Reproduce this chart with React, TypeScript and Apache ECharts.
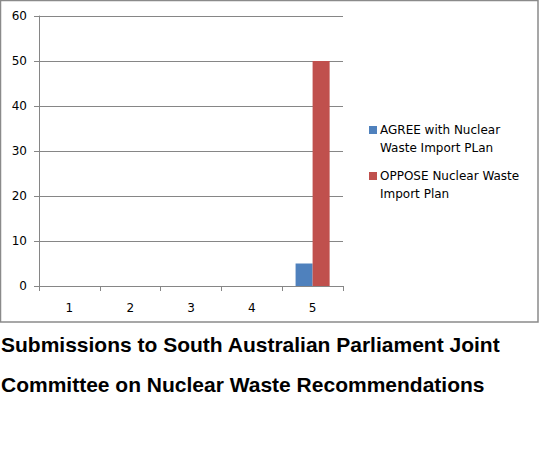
import React, { useEffect, useRef } from "react";
import * as echarts from "echarts";

const categories = ["1", "2", "3", "4", "5"];
const agreeValues = [0, 0, 0, 0, 5];
const opposeValues = [0, 0, 0, 0, 50];
const seriesNames = ["AGREE with Nuclear Waste Import PLan", "OPPOSE Nuclear Waste Import Plan"];
const legendFirstLines: Record<string, string> = {
  "AGREE with Nuclear Waste Import PLan": "AGREE with Nuclear",
  "OPPOSE Nuclear Waste Import Plan": "OPPOSE Nuclear Waste",
};
const legendSecondLines = ["Waste Import PLan", "Import Plan"];
const titleLines = [
  "Submissions to South Australian Parliament Joint",
  "Committee on Nuclear Waste Recommendations",
];

export default function App() {
  const ref = useRef<HTMLDivElement>(null);
  useEffect(() => {
    document.body.style.margin = "0";
    const chart = echarts.init(ref.current!, null, { renderer: "svg" });
    const font = "'DejaVu Sans', Verdana, sans-serif";
    chart.setOption({
      animation: false,
      backgroundColor: "#ffffff",
      grid: { left: 39, right: 197, top: 16, bottom: 172, containLabel: false },
      xAxis: {
        type: "category",
        data: categories,
        axisLine: { lineStyle: { color: "#868686", width: 1 } },
        axisTick: { show: true, length: 5, lineStyle: { color: "#868686" } },
        axisLabel: { color: "#000", fontFamily: font, fontSize: 12, margin: 16 },
      },
      yAxis: {
        type: "value",
        min: 0,
        max: 60,
        interval: 10,
        axisLine: { show: true, lineStyle: { color: "#868686", width: 1 } },
        axisTick: { show: true, length: 5, lineStyle: { color: "#868686" } },
        splitLine: { lineStyle: { color: "#868686", width: 1 } },
        axisLabel: { color: "#000", fontFamily: font, fontSize: 12, margin: 12 },
      },
      legend: {
        orient: "vertical",
        left: 364,
        top: 116,
        itemWidth: 8,
        itemHeight: 8,
        itemGap: 28,
        icon: "rect",
        data: seriesNames,
        formatter: (name: string) => legendFirstLines[name] || name,
        textStyle: { color: "#000", fontFamily: font, fontSize: 12, lineHeight: 18, padding: [0, 0, 0, -2] },
        align: "left",
      },
      series: [
        {
          name: seriesNames[0],
          type: "bar",
          data: agreeValues,
          itemStyle: { color: "#4f81bd" },
          barGap: "0%",
          barCategoryGap: "44%",
        },
        {
          name: seriesNames[1],
          type: "bar",
          data: opposeValues,
          itemStyle: { color: "#c0504d" },
          barGap: "0%",
          barCategoryGap: "44%",
        },
      ],
      graphic: [
        {
          type: "rect",
          shape: { x: 0.5, y: 0.5, width: 537.5, height: 321.5 },
          style: { fill: "none", stroke: "#8a8a8a", lineWidth: 1.5 },
          silent: true,
        },
        {
          type: "text",
          left: 380,
          top: 142,
          style: { text: legendSecondLines[0], fill: "#000", font: `12px ${font}` },
        },
        {
          type: "text",
          left: 380,
          top: 188,
          style: { text: legendSecondLines[1], fill: "#000", font: `12px ${font}` },
        },
        {
          type: "text",
          left: 1,
          top: 334,
          style: {
            text: titleLines[0],
            fill: "#000",
            font: "bold 21px 'Liberation Sans', Arial, sans-serif",
          },
        },
        {
          type: "text",
          left: 1,
          top: 374,
          style: {
            text: titleLines[1],
            fill: "#000",
            font: "bold 21px 'Liberation Sans', Arial, sans-serif",
          },
        },
      ],
    });
    return () => chart.dispose();
  }, []);
  return <div ref={ref} style={{ width: 540, height: 458 }} />;
}
